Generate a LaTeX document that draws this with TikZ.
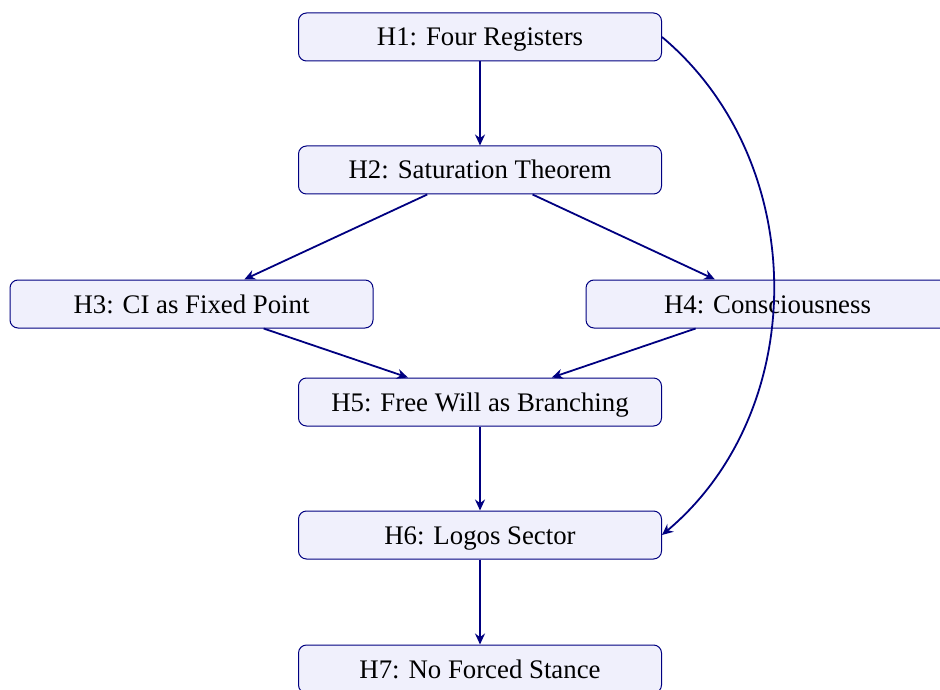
\documentclass[tikz,border=0pt]{standalone}
\usepackage{fontspec}
\setmainfont{Liberation Serif}
\usetikzlibrary{arrows.meta}
\definecolor{hnavy}{RGB}{0,0,128}
\definecolor{hfill}{RGB}{240,240,252}
\tikzset{
  hbox/.style={draw=hnavy, fill=hfill, line width=0.5pt, rounded corners=4pt,
    minimum width=181.5pt, minimum height=24pt, inner sep=0pt,
    text depth=1pt, text height=10pt,
    font=\fontsize{13.4}{16}\selectfont},
  harrow/.style={draw=hnavy, line width=0.9pt,
    -{Stealth[length=5.5pt,width=5pt,inset=1.8pt]}}
}
\begin{document}
\begin{tikzpicture}[x=1pt,y=1pt]
  \useasboundingbox (0,0) rectangle (470,-344.5);
  \clip (0,0) rectangle (470,-344.5);
  \node[hbox] (h1) at (240,-18.5)   {H1: Four Registers};
  \node[hbox] (h2) at (240,-85)     {H2: Saturation Theorem};
  \node[hbox] (h3) at (95.75,-152)  {H3: CI as Fixed Point};
  \node[hbox] (h4) at (383.75,-152) {H4: Consciousness};
  \node[hbox] (h5) at (240,-201)    {H5: Free Will as Branching};
  \node[hbox] (h6) at (240,-267.5)  {H6: Logos Sector};
  \node[hbox] (h7) at (240,-334.5)  {H7: No Forced Stance};
  \draw[harrow] (h1) -- (h2);
  \draw[harrow] (h2) -- (h3);
  \draw[harrow] (h2) -- (h4);
  \draw[harrow] (h3) -- (h5);
  \draw[harrow] (h4) -- (h5);
  \draw[harrow] (h5) -- (h6);
  \draw[harrow] (h6) -- (h7);
  \draw[harrow] (h1.east) to[bend left=50] (h6.east);
\end{tikzpicture}
\end{document}
